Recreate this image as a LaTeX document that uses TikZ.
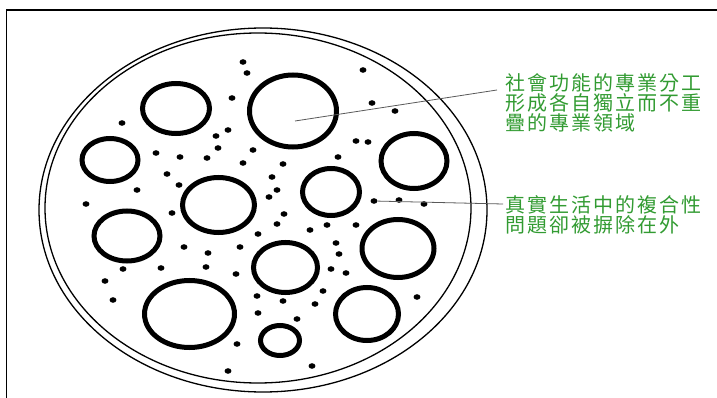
\documentclass[tikz,border=0pt]{standalone}
\usepackage{fontspec}
\newfontfamily\cjk[LetterSpace=10]{Noto Sans CJK TC}
\usetikzlibrary{shapes}
\definecolor{lbl}{RGB}{50,155,50}
\tikzstyle{ring}=[draw,ellipse,line width=5pt,inner sep=0pt]
\tikzstyle{dot}=[fill,ellipse,inner sep=0pt,minimum width=6.8pt,minimum height=5.6pt]
\tikzstyle{lead}=[draw=black!65,line width=.8pt]
\tikzstyle{note}=[text=lbl,align=left,anchor=north west,inner sep=0pt,font=\cjk\fontsize{20}{20}\selectfont]

\begin{document}
\begin{tikzpicture}[x=1pt,y=-1pt]
	\useasboundingbox (0,0) rectangle (717,398);
	% frame
	\draw[line width=1.2pt] (6.5,398) -- (6.5,10) -- (717,10);
	% the two outer rims
	\draw[line width=1.3pt] (263,210) ellipse (224 and 182);
	\draw[line width=1.3pt] (258,208) ellipse (213 and 175);
	% domains
	\node[ring,minimum width=67pt,minimum height=50pt] (r1) at (176,108.5) {};
	\node[ring,minimum width=87pt,minimum height=72pt] (r2) at (293,111) {};
	\node[ring,minimum width=56pt,minimum height=43pt] (r3) at (110,160) {};
	\node[ring,minimum width=66pt,minimum height=55pt] (r4) at (414,161) {};
	\node[ring,minimum width=72pt,minimum height=55pt] (r5) at (218.5,205) {};
	\node[ring,minimum width=57pt,minimum height=47pt] (r6) at (331,192) {};
	\node[ring,minimum width=66pt,minimum height=50pt] (r7) at (127,236) {};
	\node[ring,minimum width=72pt,minimum height=58pt] (r8) at (398,248.5) {};
	\node[ring,minimum width=64pt,minimum height=50pt] (r9) at (285.5,267.5) {};
	\node[ring,minimum width=90pt,minimum height=67pt] (r10) at (189.5,314) {};
	\node[ring,minimum width=39pt,minimum height=30pt] (r11) at (280,340.5) {};
	\node[ring,minimum width=63pt,minimum height=53pt] (r12) at (367,314) {};
	% scattered problems
	\foreach \x/\y [count=\i] in {243/62,247/73,232/98,122/123,228/130,216/136,218/148,253/150,
		156/153,180/157,207/158,243/163,283/164,167/174,179/185,137/190,272/177,277/190,269/197,
		338/157,356/141,363/70,372/103,395/111,368/142,374/201,399/200,424/204,86/204,172/213,
		184/247,123/269,161/268,105/281,113/300,284/214,277/224,310/230,327/225,356/225,336/243,
		339/254,258/234,240/247,208/253,206/267,236/274,331/269,346/273,323/291,257/296,283/301,
		315/304,258/313,297/319,237/344,228/371,312/366,417/297}
		\node[dot] (d\i) at (\x,\y) {};
	% labels
	\node[note] (lab1) at (505,73) {社會功能的專業分工\\形成各自獨立而不重\\疊的專業領域};
	\node[note] (lab2) at (505,195) {真實生活中的複合性\\問題卻被摒除在外};
	\coordinate (a1) at (295,121);
	\coordinate (e1) at (497,90);
	\coordinate (e2) at (503,204);
	\path[lead] (a1) -- (e1);
	\path[lead] (d26) -- (e2);
\end{tikzpicture}
\end{document}
